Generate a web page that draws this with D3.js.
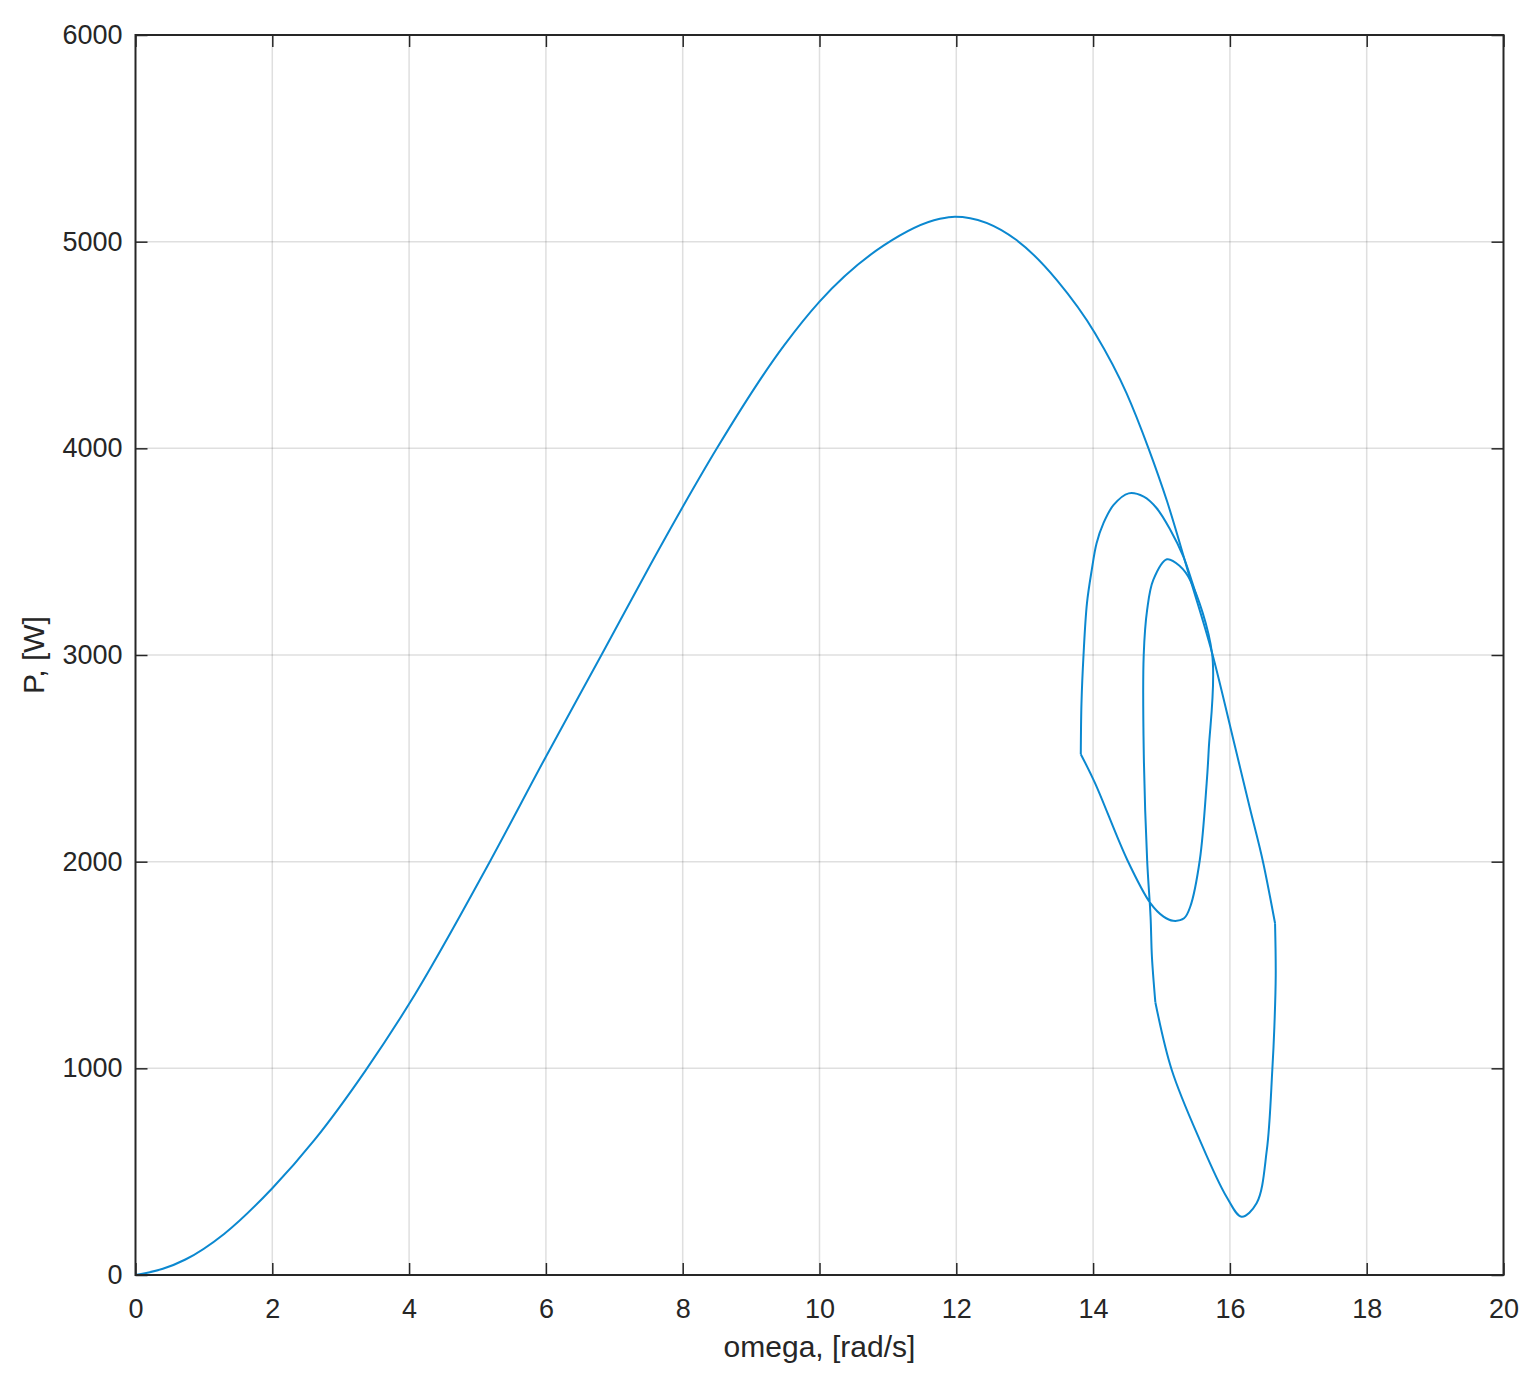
<!DOCTYPE html>
<html><head><meta charset="utf-8">
<script src="https://cdnjs.cloudflare.com/ajax/libs/d3/7.8.5/d3.min.js"></script>
<style>
body{margin:0;background:#fff;}
svg{display:block;}
text{font-family:"Liberation Sans",Arial,Helvetica,sans-serif;fill:#262626;}
</style></head><body>
<svg id="chart" width="1540" height="1388"></svg>
<script>
// ---- data (omega [rad/s], P [W]) ----
// static curve up to first corner (omega increasing)
const segStatic = [[0,0],[0.4,30],[0.73,75],[1.3,200],[2.0,420],[2.62,655],[3.36,988],[3.99,1306],[5.18,2000],[5.99,2502],[6.82,3005],[7.52,3432],[8.01,3722],[8.5,4000],[9.48,4497],[10.0,4710],[10.94,4982],[11.76,5111],[11.98,5121],[12.88,5008],[13.47,4814],[14.03,4556],[14.49,4266],[14.81,4000],[15.08,3745],[15.42,3368],[15.74,3010],[16.08,2550],[16.29,2262],[16.49,1990],[16.66,1702]];
// outer lower loop
const segLowerLoop = [[16.66,1702],[16.67,1450],[16.65,1200],[16.62,992],[16.54,605],[16.39,347],[16.17,282],[15.95,379],[15.56,653],[15.15,992],[14.91,1320]];
// inner loop
const segInnerLoop = [[14.91,1320],[14.86,1540],[14.84,1734],[14.79,2008],[14.74,2540],[14.74,3000],[14.79,3218],[14.88,3363],[15.08,3463],[15.27,3430],[15.42,3362],[15.74,3005],[15.69,2540],[15.66,2379],[15.56,2008],[15.42,1782],[15.33,1726],[15.17,1714],[15.03,1734],[14.84,1798],[14.50,2008],[14.03,2379],[13.82,2520]];
// upper-left loop
const segUpperLoop = [[13.82,2520],[13.83,2766],[13.86,3000],[13.91,3250],[13.98,3411],[14.05,3540],[14.15,3637],[14.30,3726],[14.52,3782],[14.74,3766],[14.93,3710],[15.13,3605],[15.32,3476],[15.45,3350],[15.52,3275]];
const xTicks = [0,2,4,6,8,10,12,14,16,18,20];
const yTicks = [0,1000,2000,3000,4000,5000,6000];
const xLabel = "omega, [rad/s]";
const yLabel = "P, [W]";

const L=135.5, R=1503.5, T=35, B=1275;
const svg = d3.select("#chart");
const x = d3.scaleLinear().domain([0,20]).range([L,R]);
const y = d3.scaleLinear().domain([0,6000]).range([B,T]);
const axisColor = "#262626";
const lineColor = "#0b88d0";

// grid
const g = svg.append("g");
g.selectAll(".vg").data(xTicks.slice(1,-1)).enter().append("line")
  .attr("x1",d=>x(d)).attr("x2",d=>x(d)).attr("y1",T).attr("y2",B)
  .attr("stroke",axisColor).attr("stroke-opacity",0.15).attr("stroke-width",1.5);
g.selectAll(".hg").data(yTicks.slice(1,-1)).enter().append("line")
  .attr("y1",d=>y(d)).attr("y2",d=>y(d)).attr("x1",L).attr("x2",R)
  .attr("stroke",axisColor).attr("stroke-opacity",0.15).attr("stroke-width",1.5);

// curve
const staticLine = d3.line().x(d=>x(d[0])).y(d=>y(d[1])).curve(d3.curveMonotoneX);
const loopLine = d3.line().x(d=>x(d[0])).y(d=>y(d[1])).curve(d3.curveCatmullRom.alpha(0.5));
svg.append("path").attr("d",staticLine(segStatic)).attr("fill","none")
  .attr("stroke",lineColor).attr("stroke-width",2).attr("stroke-linejoin","round");
[segLowerLoop, segInnerLoop, segUpperLoop].forEach(s=>{
  svg.append("path").attr("d",loopLine(s)).attr("fill","none")
    .attr("stroke",lineColor).attr("stroke-width",2).attr("stroke-linejoin","round");
});

// axes (ticks inward, on all sides)
const tl = 12;
function styleAxis(sel){
  sel.select(".domain").remove();
  sel.selectAll(".tick line").attr("stroke",axisColor).attr("stroke-width",1.5);
  sel.selectAll("text").attr("fill",axisColor).style("font-size","27px")
     .style("font-family",'"Liberation Sans",Arial,sans-serif');
}
const xb = svg.append("g").attr("transform",`translate(0,${B})`)
  .call(d3.axisBottom(x).tickValues(xTicks).tickFormat(d3.format("d")).tickSizeInner(-tl).tickSizeOuter(0).tickPadding(24));
styleAxis(xb);
xb.selectAll("text").attr("dy","0.71em");
const xt = svg.append("g").attr("transform",`translate(0,${T})`)
  .call(d3.axisTop(x).tickValues(xTicks).tickFormat("").tickSizeInner(-tl).tickSizeOuter(0));
styleAxis(xt);
const yl = svg.append("g").attr("transform",`translate(${L},0)`)
  .call(d3.axisLeft(y).tickValues(yTicks).tickFormat(d3.format("d")).tickSizeInner(-tl).tickSizeOuter(0).tickPadding(13));
styleAxis(yl);
const yr = svg.append("g").attr("transform",`translate(${R},0)`)
  .call(d3.axisRight(y).tickValues(yTicks).tickFormat("").tickSizeInner(-tl).tickSizeOuter(0));
styleAxis(yr);

// box
svg.append("rect").attr("x",L).attr("y",T).attr("width",R-L).attr("height",B-T)
  .attr("fill","none").attr("stroke",axisColor).attr("stroke-width",2);

// labels
svg.append("text").attr("x",(L+R)/2).attr("y",1357).attr("text-anchor","middle")
  .style("font-size","30px").text(xLabel);
svg.append("text").attr("transform",`translate(44,${(T+B)/2}) rotate(-90)`)
  .attr("text-anchor","middle").style("font-size","30px").text(yLabel);
</script>
</body></html>
